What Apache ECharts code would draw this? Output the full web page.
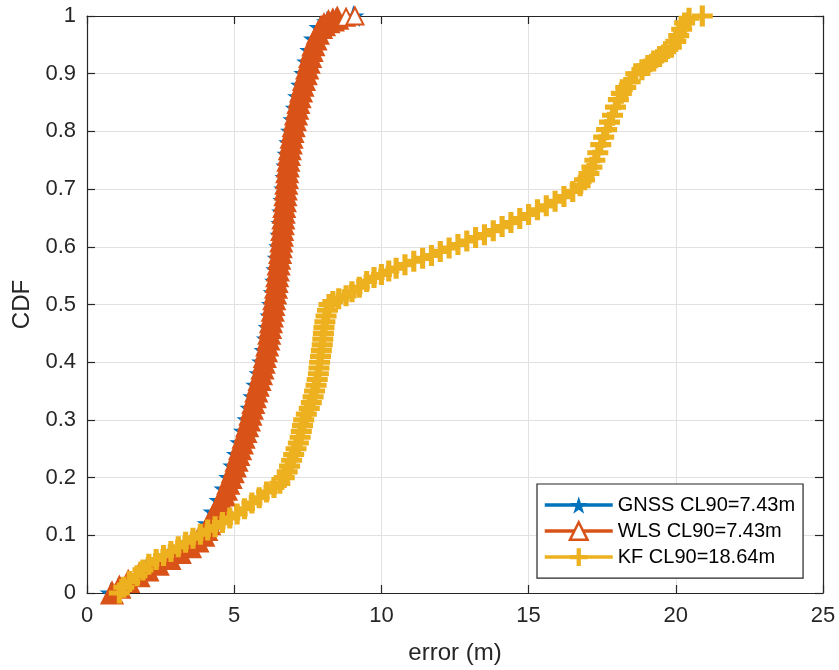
<!DOCTYPE html>
<html><head><meta charset="utf-8">
<script src="https://cdn.jsdelivr.net/npm/echarts@6/dist/echarts.min.js"></script>
<style>html,body{margin:0;padding:0;background:#fff}#c{width:839px;height:670px}</style>
</head><body><div id="c"></div>
<script>
const xTicks = ['0','5','10','15','20','25'];
const yTicks = ['0','0.1','0.2','0.3','0.4','0.5','0.6','0.7','0.8','0.9','1'];
const seriesNames = ['GNSS CL90=7.43m','WLS CL90=7.43m','KF CL90=18.64m'];
const xTitle = 'error (m)';
const yTitle = 'CDF';

const gnssErr = [0.8,1.38,2.0,2.75,3.45,3.9,4.1,4.3,4.5,4.67,4.83,4.97,5.09,5.21,5.33,5.45,5.55,5.65,5.75,5.86,5.95,6.03,6.11,6.17,6.23,6.28,6.34,6.39,6.43,6.48,6.53,6.57,6.6,6.63,6.67,6.7,6.74,6.77,6.81,6.87,6.93,7.01,7.09,7.17,7.27,7.38,7.48,7.58,7.71,7.9,8.15,8.45,9.05];
const gnssCdf = [0,0.02,0.04,0.06,0.08,0.10,0.12,0.14,0.16,0.18,0.20,0.22,0.24,0.26,0.28,0.30,0.32,0.34,0.36,0.38,0.40,0.42,0.44,0.46,0.48,0.50,0.52,0.54,0.56,0.58,0.60,0.62,0.64,0.66,0.68,0.70,0.72,0.74,0.76,0.78,0.80,0.82,0.84,0.86,0.88,0.90,0.92,0.94,0.96,0.98,0.99,0.995,1.0];

const wlsErr = [0.85,1.1,1.4,1.75,2.05,2.4,2.8,3.15,3.5,3.75,3.95,4.05,4.15,4.25,4.35,4.45,4.55,4.65,4.72,4.8,4.88,4.95,5.02,5.08,5.14,5.2,5.26,5.32,5.38,5.44,5.5,5.55,5.6,5.65,5.7,5.75,5.8,5.86,5.91,5.96,6.0,6.04,6.08,6.12,6.16,6.19,6.22,6.25,6.28,6.31,6.33,6.36,6.39,6.42,6.44,6.46,6.48,6.51,6.53,6.56,6.58,6.6,6.62,6.63,6.65,6.67,6.68,6.7,6.72,6.74,6.75,6.77,6.79,6.8,6.82,6.84,6.86,6.89,6.92,6.95,6.98,7.02,7.06,7.1,7.14,7.18,7.22,7.27,7.32,7.37,7.43,7.48,7.53,7.58,7.63,7.69,7.76,7.84,7.95,8.05,8.2,8.35,8.5,8.8,9.1];
const wlsCdf = [0,0.01,0.02,0.03,0.04,0.05,0.06,0.07,0.08,0.09,0.10,0.11,0.12,0.13,0.14,0.15,0.16,0.17,0.18,0.19,0.20,0.21,0.22,0.23,0.24,0.25,0.26,0.27,0.28,0.29,0.30,0.31,0.32,0.33,0.34,0.35,0.36,0.37,0.38,0.39,0.40,0.41,0.42,0.43,0.44,0.45,0.46,0.47,0.48,0.49,0.50,0.51,0.52,0.53,0.54,0.55,0.56,0.57,0.58,0.59,0.60,0.61,0.62,0.63,0.64,0.65,0.66,0.67,0.68,0.69,0.70,0.71,0.72,0.73,0.74,0.75,0.76,0.77,0.78,0.79,0.80,0.81,0.82,0.83,0.84,0.85,0.86,0.87,0.88,0.89,0.90,0.91,0.92,0.93,0.94,0.95,0.96,0.97,0.98,0.985,0.99,0.993,0.996,0.998,1.0];

const kfErr = [1.1,1.25,1.45,1.7,1.9,2.1,2.35,2.6,2.85,3.1,3.35,3.6,3.85,4.1,4.35,4.6,4.85,5.1,5.35,5.6,5.85,6.1,6.35,6.55,6.7,6.8,6.88,6.95,7.02,7.1,7.18,7.24,7.28,7.32,7.36,7.45,7.55,7.62,7.68,7.73,7.78,7.82,7.86,7.88,7.9,7.93,7.96,7.99,8.01,8.03,8.05,8.08,8.12,8.17,8.22,8.35,8.55,8.8,9.0,9.25,9.5,9.75,10.0,10.25,10.5,10.8,11.1,11.4,11.7,12.0,12.3,12.6,12.9,13.2,13.5,13.8,14.1,14.4,14.7,15.0,15.3,15.6,15.9,16.2,16.5,16.75,16.9,17.05,17.15,17.25,17.35,17.45,17.55,17.65,17.75,17.85,17.95,18.05,18.15,18.3,18.45,18.64,18.85,19.05,19.25,19.45,19.65,19.85,20.0,20.1,20.2,20.3,20.45,20.9];
const kfCdf = [0,0.01,0.02,0.03,0.04,0.05,0.058,0.065,0.072,0.08,0.088,0.095,0.102,0.109,0.115,0.122,0.13,0.137,0.146,0.156,0.165,0.175,0.183,0.19,0.2,0.21,0.22,0.23,0.24,0.25,0.26,0.27,0.28,0.29,0.3,0.31,0.32,0.33,0.34,0.35,0.36,0.37,0.38,0.39,0.4,0.41,0.42,0.43,0.44,0.45,0.46,0.47,0.48,0.49,0.5,0.505,0.51,0.515,0.522,0.53,0.54,0.547,0.552,0.558,0.563,0.569,0.575,0.58,0.585,0.592,0.598,0.604,0.61,0.616,0.621,0.628,0.635,0.642,0.649,0.656,0.664,0.671,0.679,0.687,0.696,0.706,0.716,0.727,0.738,0.75,0.763,0.777,0.79,0.803,0.816,0.828,0.842,0.855,0.866,0.876,0.886,0.9,0.907,0.914,0.922,0.93,0.938,0.946,0.956,0.966,0.977,0.988,0.996,1.0];

const FONT = '"Liberation Sans", Arial, Helvetica, sans-serif';
const AX = '#262626';
const C_GNSS = '#0072BD', C_WLS = '#D95319', C_KF = '#EDB120';
const STAR = 'path://M50,0 L61.2,34.5 L97.6,34.5 L68.2,55.9 L79.4,90.5 L50,69.1 L20.6,90.5 L31.8,55.9 L2.4,34.5 L38.8,34.5 Z';
const PLUS = 'path://M-2.2,-9H2.2V-2.2H9V2.2H2.2V9H-2.2V2.2H-9V-2.2H-2.2Z';

function pairs(xs, ys) { return xs.map((x, i) => [x, ys[i]]); }

const wlsData = pairs(wlsErr, wlsCdf).map((p, i, arr) => i >= arr.length - 2
  ? { value: p, symbol: 'emptyTriangle', symbolSize: 17, itemStyle: { borderColor: C_WLS, borderWidth: 2.5 } }
  : { value: p });

const mkX = (pos, main) => ({
  type: 'value', min: 0, max: 25, interval: 5, position: pos,
  axisLine: { show: true, onZero: false, lineStyle: { color: AX, width: 1.2 } },
  axisTick: { show: true, inside: true, length: 8, lineStyle: { color: AX, width: 1.2 } },
  axisLabel: { show: main, fontSize: 22, color: AX, margin: 12, fontFamily: FONT,
    formatter: (v) => xTicks[Math.round(v / 5)] },
  splitLine: { show: main, lineStyle: { color: '#e1e1e1', width: 1 } },
  name: main ? xTitle : '', nameLocation: 'middle', nameGap: 48,
  nameTextStyle: { fontSize: 24, color: AX, fontFamily: FONT }
});
const mkY = (pos, main) => ({
  type: 'value', min: 0, max: 1, interval: 0.1, position: pos,
  axisLine: { show: true, onZero: false, lineStyle: { color: AX, width: 1.2 } },
  axisTick: { show: true, inside: true, length: 8, lineStyle: { color: AX, width: 1.2 } },
  axisLabel: { show: main, fontSize: 22, color: AX, margin: 11, fontFamily: FONT,
    formatter: (v) => yTicks[Math.round(v * 10)] },
  splitLine: { show: main, lineStyle: { color: '#e1e1e1', width: 1 } },
  name: main ? yTitle : '', nameLocation: 'middle', nameGap: 40, nameRotate: 90,
  nameTextStyle: { fontSize: 24, color: AX, fontFamily: FONT }
});

const chart = echarts.init(document.getElementById('c'), null, { renderer: 'canvas' });
chart.setOption({
  animation: false,
  backgroundColor: '#fff',
  grid: { left: 87, right: 16, top: 16, bottom: 75 },
  xAxis: [mkX('bottom', true), mkX('top', false)],
  yAxis: [mkY('left', true), mkY('right', false)],
  legend: {
    orient: 'vertical', left: 537, top: 484,
    padding: [11, 8, 11, 6], itemWidth: 68, itemHeight: 22, itemGap: 6,
    backgroundColor: '#fff', borderColor: AX, borderWidth: 1.2, borderRadius: 0,
    textStyle: { fontSize: 20, color: '#000', fontFamily: FONT },
    lineStyle: { width: 3.5 },
    data: [
      { name: seriesNames[0] },
      { name: seriesNames[1], itemStyle: { color: '#fff', borderColor: C_WLS, borderWidth: 2.5 } },
      { name: seriesNames[2] }
    ]
  },
  series: [
    { name: seriesNames[0], type: 'line', xAxisIndex: 0, yAxisIndex: 0, clip: false,
      data: pairs(gnssErr, gnssCdf), symbol: STAR, symbolSize: 22, showAllSymbol: true,
      itemStyle: { color: C_GNSS }, lineStyle: { color: C_GNSS, width: 3.5 }, z: 2 },
    { name: seriesNames[1], type: 'line', xAxisIndex: 0, yAxisIndex: 0, clip: false,
      data: wlsData, symbol: 'triangle', symbolSize: 21, showAllSymbol: true,
      itemStyle: { color: C_WLS, borderColor: C_WLS, borderWidth: 2 },
      lineStyle: { color: C_WLS, width: 3.5 }, z: 3 },
    { name: seriesNames[2], type: 'line', xAxisIndex: 0, yAxisIndex: 0, clip: false,
      data: pairs(kfErr, kfCdf), symbol: PLUS, symbolSize: 21, showAllSymbol: true,
      itemStyle: { color: C_KF }, lineStyle: { color: C_KF, width: 3.5 }, z: 4 }
  ]
});
</script></body></html>
